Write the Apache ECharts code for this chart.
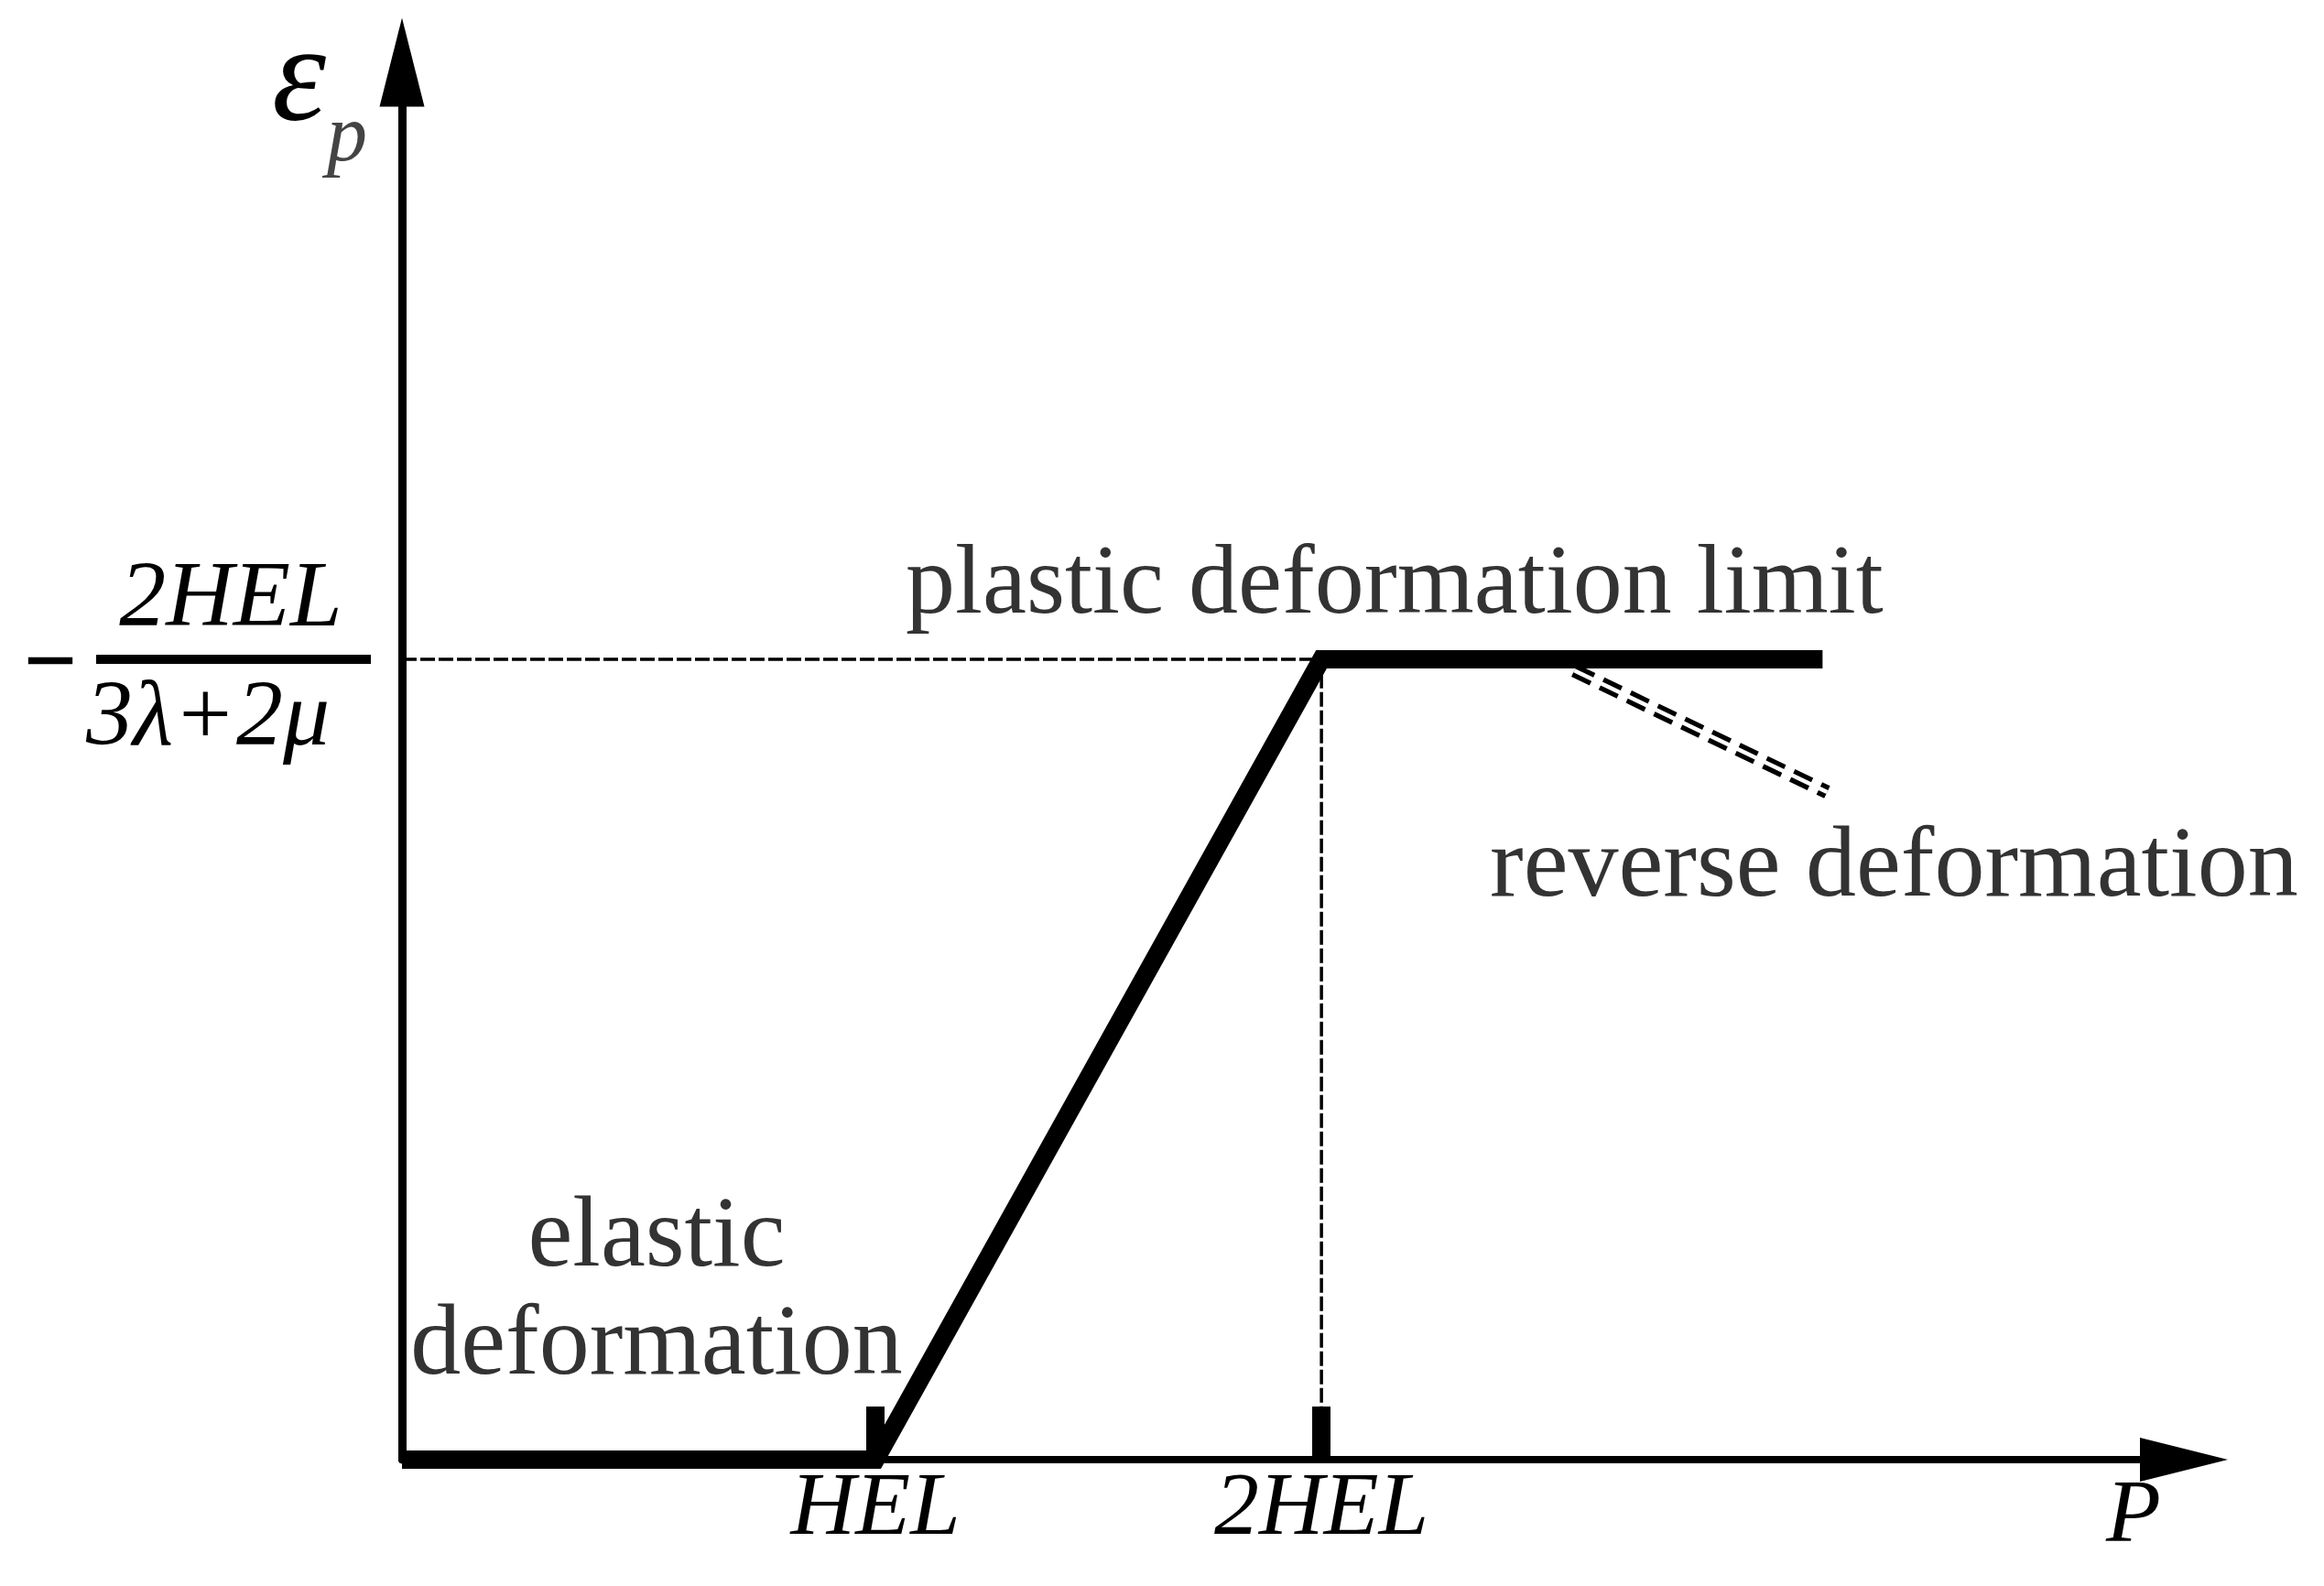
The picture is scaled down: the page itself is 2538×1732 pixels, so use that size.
<!DOCTYPE html>
<html>
<head>
<meta charset="utf-8">
<script src="https://cdn.jsdelivr.net/npm/echarts@6/dist/echarts.min.js"></script>
<style>
  html, body { margin: 0; padding: 0; background: #fff; }
  #chart { width: 2538px; height: 1732px; }
</style>
</head>
<body>
<div id="chart"></div>
<script>
// P with 2HEL = 2, plastic strain in units of 2HEL/(3λ+2μ)
const strainP = [0, 1.03, 2, 3.09]
const strainEps = [0, 0, 1, 1]
const guideP = [0, 2, 2]
const guideEps = [1, 1, 0]
const reverseP = [2.55, 3.1]
const reverseEps = [0.986, 0.834]
const tickValues = [1.03, 2]
const tickLabels = ['HEL', '2HEL']
const epsLimit = 1

const serif = 'Liberation Serif'
const chart = echarts.init(document.getElementById('chart'))

const toPairs = (xs, ys) => xs.map((x, i) => [x, ys[i]])

chart.setOption({
  backgroundColor: '#fff',
  animation: false,
  grid: { left: 439, right: 153, top: 68, bottom: 138 },
  xAxis: {
    type: 'value',
    min: 0,
    max: 3.876,
    axisLine: {
      show: true,
      symbol: ['none', 'triangle'],
      symbolSize: [48, 96],
      lineStyle: { color: '#000', width: 8 }
    },
    axisTick: {
      show: true,
      inside: true,
      length: 58,
      customValues: tickValues,
      lineStyle: { color: '#000', width: 20 }
    },
    axisLabel: {
      customValues: tickValues,
      formatter: v => tickLabels[tickValues.indexOf(v)],
      margin: 6,
      color: '#000',
      fontSize: 98,
      fontFamily: serif,
      fontStyle: 'italic'
    },
    splitLine: { show: false }
  },
  yAxis: {
    type: 'value',
    min: 0,
    max: 1.746,
    axisLine: {
      show: true,
      symbol: ['none', 'triangle'],
      symbolSize: [49, 97],
      lineStyle: { color: '#000', width: 9 }
    },
    axisTick: { show: false },
    axisLabel: { show: false },
    splitLine: { show: false }
  },
  series: [
    {
      // guide lines to the limit
      type: 'line',
      data: toPairs(guideP, guideEps),
      symbol: 'none',
      z: 1,
      lineStyle: { color: '#000', width: 3.5, type: [16, 4] }
    },
    {
      // reverse deformation, drawn as a double dashed line
      type: 'line',
      data: toPairs(reverseP, reverseEps),
      symbol: 'none',
      z: 2,
      lineStyle: { color: '#000', width: 15, type: [22, 11] }
    },
    {
      type: 'line',
      data: toPairs(reverseP, reverseEps),
      symbol: 'none',
      z: 3,
      lineStyle: { color: '#fff', width: 4.5 }
    },
    {
      type: 'line',
      data: toPairs(strainP, strainEps),
      symbol: 'none',
      z: 5,
      lineStyle: { color: '#000', width: 20, join: 'miter', cap: 'butt' }
    }
  ]
})

// labels placed from the axis scale
const [ax, ly] = chart.convertToPixel({ gridIndex: 0 }, [0, epsLimit])
const [, ay] = chart.convertToPixel({ gridIndex: 0 }, [0, 0])

const txt = (x, y, text, size, opts) => ({
  type: 'text',
  x: x,
  y: y,
  style: Object.assign({
    text: text,
    fontSize: size,
    fontFamily: serif,
    fill: '#000',
    align: 'left',
    verticalAlign: 'middle'
  }, opts || {})
})

chart.setOption({
  graphic: [
    // axis names
    txt(ax - 142, 92, 'ε', 150, { fontStyle: 'italic' }),
    txt(ax - 82, 152, 'p', 88, { fontStyle: 'italic', fill: '#444' }),
    txt(2330, ay + 63, 'P', 98, { fontStyle: 'italic', align: 'center' }),
    // limit value  -2HEL/(3λ+2μ)
    txt(ax - 384, ly + 9, '−', 104, { fontWeight: 'bold', align: 'center' }),
    {
      type: 'line',
      shape: { x1: ax - 334, y1: ly, x2: ax - 34, y2: ly },
      style: { stroke: '#000', lineWidth: 10 }
    },
    txt(ax - 187, ly - 64, '2HEL', 102, { fontStyle: 'italic', align: 'center' }),
    txt(ax - 212, ly + 66, '3λ+2μ', 102, { fontStyle: 'italic', align: 'center' }),
    // annotations
    txt(989, 641, 'plastic deformation limit', 108, { fill: '#333' }),
    txt(1627, 949, 'reverse deformation', 110, { fill: '#333' }),
    txt(717, 1353, 'elastic', 110, { fill: '#333', align: 'center' }),
    txt(717, 1471, 'deformation', 110, { fill: '#333', align: 'center' })
  ]
})
</script>
</body>
</html>
